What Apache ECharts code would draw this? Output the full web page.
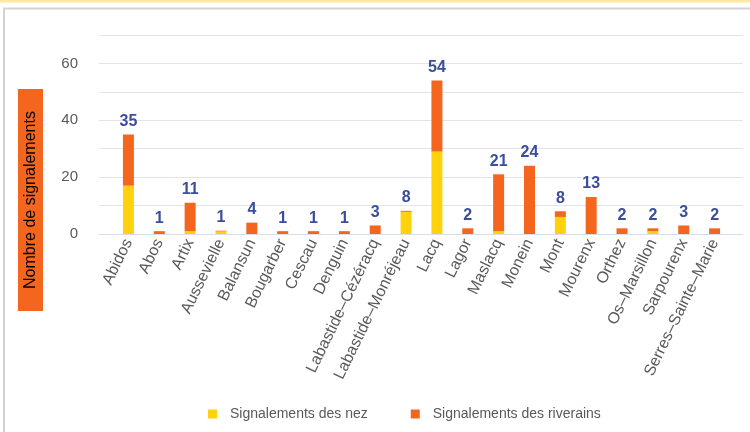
<!DOCTYPE html>
<html>
<head>
<meta charset="utf-8">
<script src="https://cdn.jsdelivr.net/npm/echarts@6/dist/echarts.min.js"></script>
<style>
html,body{margin:0;padding:0;background:#fff;}
#c{width:750px;height:432px;}
</style>
</head>
<body>
<div id="c"></div>
<script>
var categories = ['Abidos','Abos','Artix','Aussevielle','Balansun','Bougarber','Cescau','Denguin','Labastide–Cézéracq','Labastide–Monréjeau','Lacq','Lagor','Maslacq','Monein','Mont','Mourenx','Orthez','Os–Marsillon','Sarpourenx','Serres–Sainte–Marie'];
var nez =       [17, 0, 1, 0.9, 0, 0, 0, 0, 0, 7.8, 29, 0, 1, 0, 6, 0, 0, 1, 0, 0];
var riverains = [18, 1, 10, 0.25, 4, 1, 1, 1, 3, 0.35, 25, 2, 20, 24, 2, 13, 2, 1, 3, 2];
var totals =    [35, 1, 11, 1, 4, 1, 1, 1, 3, 8, 54, 2, 21, 24, 8, 13, 2, 2, 3, 2];
var yTicks = [0, 20, 40, 60];
var seriesNames = ['Signalements des nez', 'Signalements des riverains'];
var yAxisTitle = 'Nombre de signalements';

var ORANGE = '#F4661E', YELLOW = '#FFD20D', LABEL = '#3A4E9C', GREY = '#595959';
var FONT = '"Liberation Sans", Arial, sans-serif';

var chart = echarts.init(document.getElementById('c'), null, {renderer:'canvas'});
chart.setOption({
  backgroundColor: '#ffffff',
  animation: false,
  textStyle: {fontFamily: FONT},
  grid: [
    {left: 99, right: 7, top: 35, bottom: 198},
    {left: 113, right: 20, top: 35, bottom: 198}
  ],
  xAxis: [
    {gridIndex: 0, type: 'value', min: 0, max: 1, show: true,
     axisLine: {show: true, onZero: false, lineStyle: {color: '#d9dee6', width: 1}},
     axisTick: {show: false}, axisLabel: {show: false}, splitLine: {show: false}},
    {gridIndex: 1, type: 'category', data: categories,
     axisLine: {show: false}, axisTick: {show: false},
     axisLabel: {interval: 0, rotate: 64, margin: 6, color: GREY, fontSize: 16, fontFamily: FONT}}
  ],
  yAxis: [
    {gridIndex: 0, type: 'value', min: 0, max: 70, interval: 10,
     axisLine: {show: false}, axisTick: {show: false},
     axisLabel: {color: GREY, fontSize: 15, margin: 21, fontFamily: FONT,
       formatter: function(v){ return yTicks.indexOf(v) >= 0 ? String(v) : ''; }},
     splitLine: {lineStyle: {color: '#e4e4e6', width: 1}}},
    {gridIndex: 1, type: 'value', min: 0, max: 70, interval: 10, show: false,
     splitLine: {show: false}}
  ],
  legend: {
    data: seriesNames, left: 203, top: 402, icon: 'rect', itemWidth: 9, itemHeight: 9,
    itemGap: 43,
    textStyle: {color: GREY, fontSize: 14, fontFamily: FONT, padding: [0,0,0,8]}
  },
  series: [
    {name: seriesNames[0], type: 'bar', stack: 's', xAxisIndex: 1, yAxisIndex: 1,
     data: nez, barWidth: 11, itemStyle: {color: YELLOW}},
    {name: seriesNames[1], type: 'bar', stack: 's', xAxisIndex: 1, yAxisIndex: 1,
     data: riverains, barWidth: 11, itemStyle: {color: ORANGE},
     label: {show: true, position: 'top', distance: 5, color: LABEL, fontWeight: 'bold',
       fontSize: 16, fontFamily: FONT,
       formatter: function(p){ return String(totals[p.dataIndex]); }}}
  ],
  graphic: [
    {type: 'rect', shape: {x: 0, y: 0, width: 750, height: 2.5}, style: {fill: '#fde99a'}, silent: true},
    {type: 'line', shape: {x1: 3, y1: 8.5, x2: 750, y2: 8.5}, style: {stroke: '#d3d3d3', lineWidth: 2}, silent: true},
    {type: 'line', shape: {x1: 4, y1: 8, x2: 4, y2: 432}, style: {stroke: '#d3d3d3', lineWidth: 2}, silent: true},
    {type: 'rect', shape: {x: 18, y: 89, width: 25, height: 222}, style: {fill: ORANGE}, silent: true},
    {type: 'text', x: 30.5, y: 200, rotation: Math.PI / 2, silent: true,
     style: {text: yAxisTitle, fill: '#000', font: '16px ' + FONT, align: 'center', verticalAlign: 'middle'}}
  ]
});
</script>
</body>
</html>
